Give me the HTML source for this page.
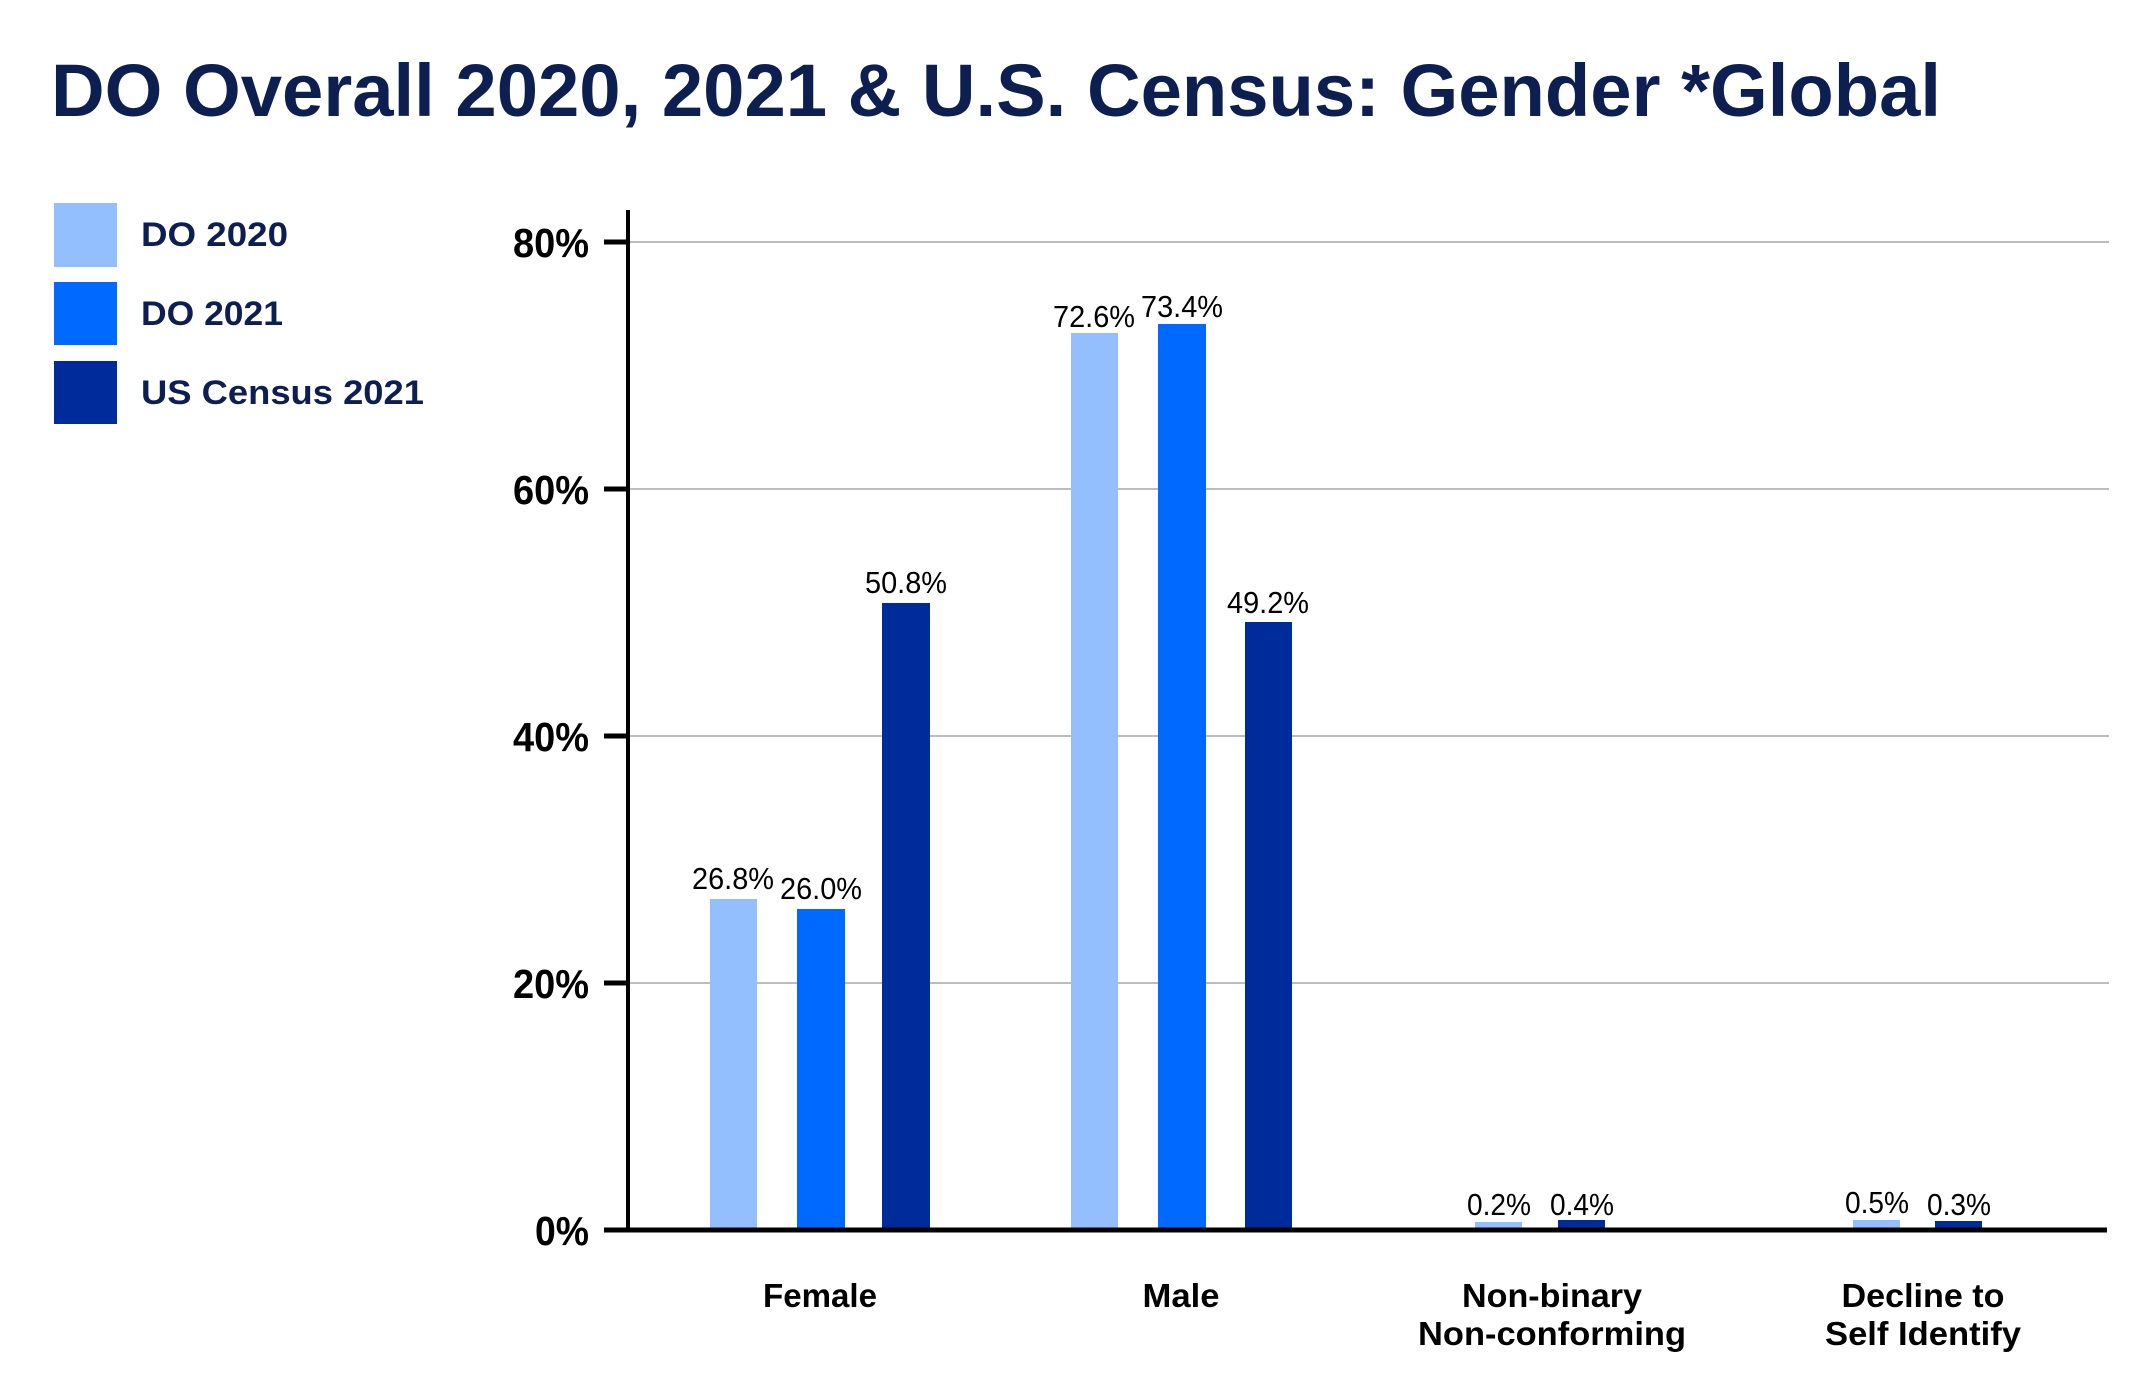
<!DOCTYPE html>
<html><head><meta charset="utf-8"><style>
html,body{margin:0;padding:0;background:#fff;}
svg{display:block;}
</style></head><body>
<svg width="2143" height="1394" viewBox="0 0 2143 1394" xmlns="http://www.w3.org/2000/svg" font-family="Liberation Sans, sans-serif">
<rect width="2143" height="1394" fill="#fff"/>
<text x="51" y="116" font-size="74" font-weight="bold" fill="#0c1f50" textLength="1890" lengthAdjust="spacingAndGlyphs">DO Overall 2020, 2021 &amp; U.S. Census: Gender *Global</text>
<rect x="54" y="203" width="63" height="64" fill="#94bfff"/>
<rect x="54" y="282" width="63" height="63" fill="#0069ff"/>
<rect x="54" y="361" width="63" height="63" fill="#002b9a"/>
<g font-size="34" font-weight="bold" fill="#0c1f50">
<text x="141" y="246" textLength="147" lengthAdjust="spacingAndGlyphs">DO 2020</text>
<text x="141" y="325" textLength="142" lengthAdjust="spacingAndGlyphs">DO 2021</text>
<text x="141" y="404" textLength="283" lengthAdjust="spacingAndGlyphs">US Census 2021</text>
</g>
<g stroke="#bdbdbd" stroke-width="2">
<line x1="628" y1="242" x2="2109" y2="242"/>
<line x1="628" y1="489" x2="2109" y2="489"/>
<line x1="628" y1="736" x2="2109" y2="736"/>
<line x1="628" y1="983" x2="2109" y2="983"/>
</g>
<g>
<rect x="710" y="899" width="47" height="331" fill="#94bfff"/>
<rect x="797" y="909" width="48" height="321" fill="#0069ff"/>
<rect x="882" y="603" width="48" height="627" fill="#002b9a"/>
<rect x="1071" y="333" width="47" height="897" fill="#94bfff"/>
<rect x="1158" y="324" width="48" height="906" fill="#0069ff"/>
<rect x="1245" y="622" width="47" height="608" fill="#002b9a"/>
<rect x="1475" y="1222" width="47" height="8" fill="#94bfff"/>
<rect x="1558" y="1220" width="47" height="10" fill="#002b9a"/>
<rect x="1853" y="1220" width="47" height="10" fill="#94bfff"/>
<rect x="1935" y="1221" width="47" height="9" fill="#002b9a"/>
</g>
<line x1="628" y1="210" x2="628" y2="1232" stroke="#000" stroke-width="4"/>
<line x1="626" y1="1230" x2="2107" y2="1230" stroke="#000" stroke-width="5"/>
<g stroke="#000" stroke-width="5">
<line x1="604" y1="242" x2="628" y2="242"/>
<line x1="604" y1="489" x2="628" y2="489"/>
<line x1="604" y1="736" x2="628" y2="736"/>
<line x1="604" y1="983" x2="628" y2="983"/>
<line x1="604" y1="1230" x2="628" y2="1230"/>
</g>
<g font-size="41" font-weight="bold" fill="#000" text-anchor="end">
<text x="589" y="257" textLength="76" lengthAdjust="spacingAndGlyphs">80%</text>
<text x="589" y="504" textLength="76" lengthAdjust="spacingAndGlyphs">60%</text>
<text x="589" y="751" textLength="76" lengthAdjust="spacingAndGlyphs">40%</text>
<text x="589" y="998" textLength="76" lengthAdjust="spacingAndGlyphs">20%</text>
<text x="589" y="1245" textLength="54" lengthAdjust="spacingAndGlyphs">0%</text>
</g>
<g font-size="31" fill="#000" text-anchor="middle">
<text x="733" y="889" textLength="82" lengthAdjust="spacingAndGlyphs">26.8%</text>
<text x="821" y="899" textLength="82" lengthAdjust="spacingAndGlyphs">26.0%</text>
<text x="906" y="593" textLength="82" lengthAdjust="spacingAndGlyphs">50.8%</text>
<text x="1094" y="327" textLength="82" lengthAdjust="spacingAndGlyphs">72.6%</text>
<text x="1182" y="317" textLength="82" lengthAdjust="spacingAndGlyphs">73.4%</text>
<text x="1268" y="613" textLength="82" lengthAdjust="spacingAndGlyphs">49.2%</text>
<text x="1499" y="1215" textLength="64" lengthAdjust="spacingAndGlyphs">0.2%</text>
<text x="1582" y="1215" textLength="64" lengthAdjust="spacingAndGlyphs">0.4%</text>
<text x="1877" y="1213" textLength="64" lengthAdjust="spacingAndGlyphs">0.5%</text>
<text x="1959" y="1215" textLength="64" lengthAdjust="spacingAndGlyphs">0.3%</text>
</g>
<g font-size="33" font-weight="bold" fill="#000" text-anchor="middle">
<text x="820" y="1307" textLength="114" lengthAdjust="spacingAndGlyphs">Female</text>
<text x="1181" y="1307" textLength="77" lengthAdjust="spacingAndGlyphs">Male</text>
<text x="1552" y="1307" textLength="180" lengthAdjust="spacingAndGlyphs">Non-binary</text>
<text x="1552" y="1345" textLength="268" lengthAdjust="spacingAndGlyphs">Non-conforming</text>
<text x="1923" y="1307" textLength="163" lengthAdjust="spacingAndGlyphs">Decline to</text>
<text x="1923" y="1345" textLength="196" lengthAdjust="spacingAndGlyphs">Self Identify</text>
</g>
</svg>
</body></html>
